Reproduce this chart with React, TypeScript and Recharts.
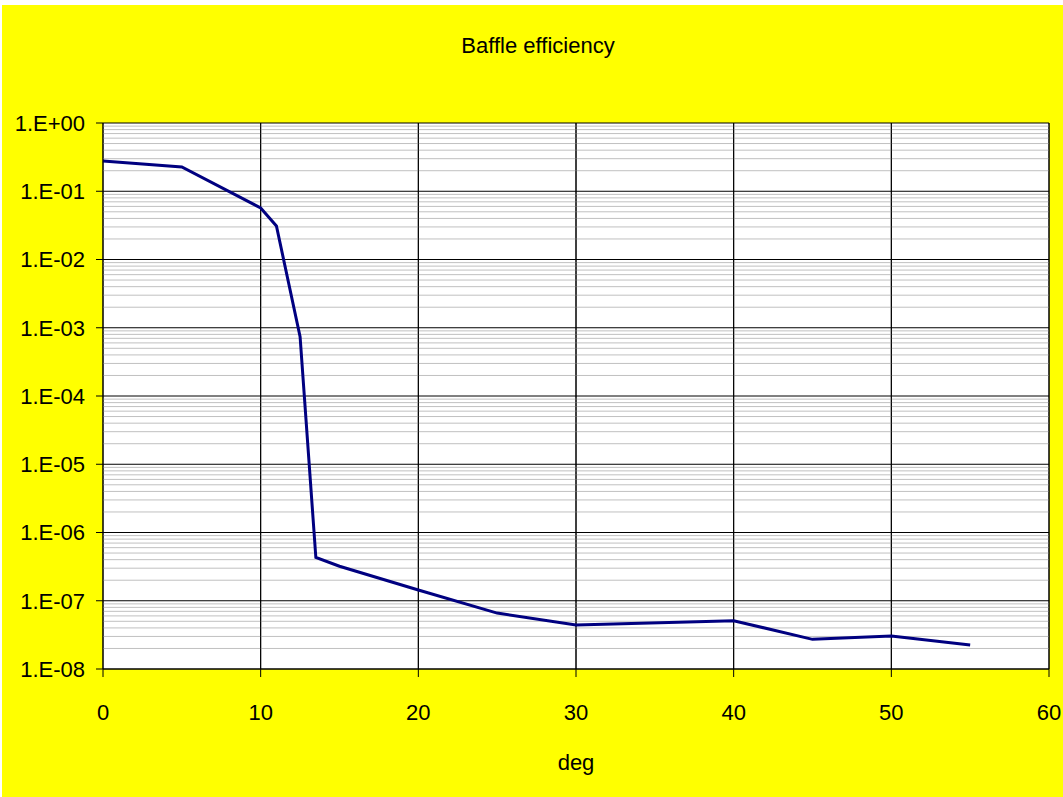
import {
  CartesianGrid,
  Line,
  LineChart,
  ReferenceLine,
  XAxis,
  YAxis,
} from "recharts";

const angles = [0, 5, 10, 11, 12.5, 13.5, 15, 20, 25, 30, 40, 45, 50, 55];
const efficiency = [
  0.277, 0.227, 0.057, 0.031, 7.4e-4, 4.3e-7, 3.2e-7, 1.44e-7, 6.6e-8, 4.4e-8,
  5.1e-8, 2.72e-8, 3.05e-8, 2.25e-8,
];
const xTicks = [0, 10, 20, 30, 40, 50, 60];
const yTicks = [1e-8, 1e-7, 1e-6, 1e-5, 1e-4, 1e-3, 1e-2, 1e-1, 1];
const minorMultipliers = [2, 3, 4, 5, 6, 7, 8, 9];

const data = angles.map((deg, i) => ({ deg, eff: efficiency[i] }));
const minorValues = yTicks
  .slice(0, -1)
  .flatMap((base) => minorMultipliers.map((m) => m * base));

const font = '"Liberation Sans", Arial, sans-serif';

function formatExp(v: number) {
  const exp = Math.round(Math.log10(v));
  const abs = Math.abs(exp).toString().padStart(2, "0");
  return `1.E${exp >= 0 ? "+" : "-"}${abs}`;
}

export default function App() {
  return (
    <div
      style={{
        position: "absolute",
        left: 2,
        top: 5,
        width: 1061,
        height: 792,
        background: "#ffff00",
        fontFamily: font,
      }}
    >
      <div
        style={{
          position: "absolute",
          top: 28,
          left: 0,
          width: 1072,
          textAlign: "center",
          fontSize: 22,
          color: "#000",
        }}
      >
        Baffle efficiency
      </div>
      <LineChart
        width={1061}
        height={792}
        data={data}
        margin={{ top: 118, right: 14, left: 0, bottom: 0 }}
      >
        <CartesianGrid
          fill="#ffffff"
          stroke="#000000"
          horizontalValues={yTicks}
          verticalValues={xTicks}
        />
        {minorValues.map((v) => (
          <ReferenceLine key={v} y={v} stroke="#c0c0c0" strokeWidth={1} />
        ))}
        {/* redraw the vertical grid above the minor lines */}
        {xTicks.slice(1).map((x) => (
          <ReferenceLine key={`x${x}`} x={x} stroke="#000" strokeWidth={1} />
        ))}
        <XAxis
          dataKey="deg"
          type="number"
          domain={[0, 60]}
          ticks={xTicks}
          height={128}
          tickSize={8}
          tickMargin={27}
          stroke="#000"
          tick={{ fill: "#000", fontSize: 22, fontFamily: font }}
          label={{
            value: "deg",
            position: "insideBottom",
            offset: 27,
            fill: "#000",
            fontSize: 22,
            fontFamily: font,
          }}
        />
        <YAxis
          scale="log"
          domain={[1e-8, 1]}
          ticks={yTicks}
          allowDataOverflow
          width={101}
          tickSize={7}
          tickMargin={11}
          stroke="#000"
          tickFormatter={formatExp}
          tick={{ fill: "#000", fontSize: 22, fontFamily: font }}
        />
        <Line
          dataKey="eff"
          type="linear"
          stroke="#000080"
          strokeWidth={3}
          dot={false}
          isAnimationActive={false}
        />
      </LineChart>
    </div>
  );
}
